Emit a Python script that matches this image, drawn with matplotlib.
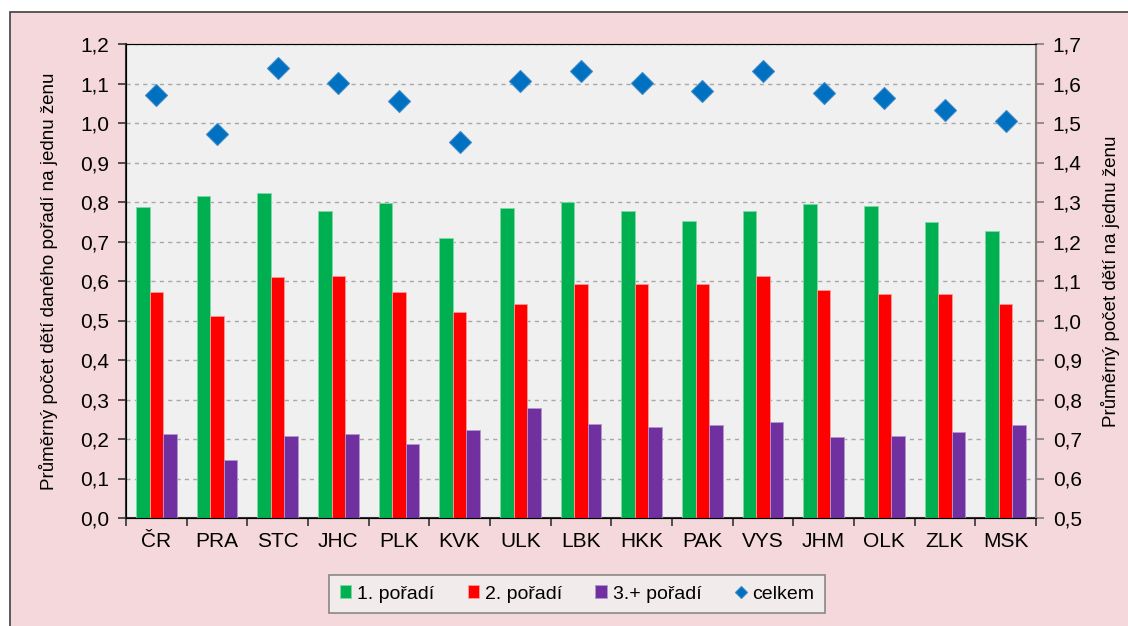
import numpy as np
import matplotlib.pyplot as plt
from matplotlib.patches import Rectangle

plt.rcParams['font.family'] = ['Liberation Sans', 'DejaVu Sans']

# data
kraje = ["ČR", "PRA", "STC", "JHC", "PLK", "KVK", "ULK", "LBK",
         "HKK", "PAK", "VYS", "JHM", "OLK", "ZLK", "MSK"]
poradi1 = [0.788, 0.815, 0.822, 0.777, 0.798, 0.708, 0.786, 0.800,
           0.776, 0.753, 0.776, 0.796, 0.789, 0.749, 0.727]
poradi2 = [0.571, 0.512, 0.611, 0.613, 0.571, 0.521, 0.543, 0.593,
           0.593, 0.592, 0.612, 0.577, 0.567, 0.566, 0.543]
poradi3 = [0.213, 0.146, 0.208, 0.212, 0.187, 0.223, 0.278, 0.238,
           0.231, 0.236, 0.243, 0.204, 0.207, 0.217, 0.235]
celkem = [1.571, 1.473, 1.640, 1.602, 1.556, 1.452, 1.606, 1.631,
          1.601, 1.580, 1.632, 1.577, 1.564, 1.532, 1.505]

pink = "#f5d8dc"
fig = plt.figure(figsize=(11.28, 6.26), dpi=100)
fig.patch.set_facecolor("white")
# pink chart area with dark frame (cut on right/bottom)
fig.patches.append(Rectangle((10/1128, -0.05), 1.2, (626-12)/626 + 0.05,
                             transform=fig.transFigure, facecolor=pink,
                             edgecolor="#404040", linewidth=1.2, zorder=-10))

ax = fig.add_axes([126/1128, 1 - 518/626, 910/1128, 474/626])
ax.set_facecolor("#f0f0f0")
x = np.arange(len(kraje))
w = 0.222
ax.bar(x - w, poradi1, w, color="#00b050", edgecolor="#7fd8a7", linewidth=0.6, label="1. pořadí", zorder=3)
ax.bar(x, poradi2, w, color="#ff0000", edgecolor="#ff9a9a", linewidth=0.6, label="2. pořadí", zorder=3)
ax.bar(x + w, poradi3, w, color="#7030a0", edgecolor="#b497cf", linewidth=0.6, label="3.+ pořadí", zorder=3)

ax.set_xlim(-0.5, len(kraje) - 0.5)
ax.set_ylim(0, 1.2)
yt = np.arange(0, 1.21, 0.1)
ax.set_yticks(yt)
ax.set_yticklabels([f"{v:.1f}".replace(".", ",") for v in yt], fontsize=15)
ax.set_xticks(x)
ax.set_xticklabels(kraje, fontsize=15)
ax.set_xticks(np.arange(-0.5, len(kraje), 1), minor=True)
ax.tick_params(axis="x", which="major", length=0, pad=10)
ax.tick_params(axis="x", which="minor", length=6, width=1.2, color="#333333")
ax.tick_params(axis="y", length=6, width=1.2, color="#333333", pad=6)
ax.grid(axis="y", linestyle=(0, (3, 3)), color="#a8a8a8", linewidth=1, zorder=0)
ax.set_ylabel("Průměrný počet dětí daného pořadí na jednu ženu", fontsize=13.5, labelpad=16)
for s in ["left", "bottom"]:
    ax.spines[s].set_color("#333333")
    ax.spines[s].set_linewidth(1.5)
ax.spines["top"].set_color("#707070")
ax.spines["right"].set_color("#808080")

ax2 = ax.twinx()
ax2.plot(x, celkem, linestyle="none", marker="D", markersize=11, color="#0070c0",
         markeredgecolor="#3b88c9", markeredgewidth=0.8, label="celkem", zorder=4)
ax2.set_ylim(0.5, 1.7)
yt2 = np.arange(0.5, 1.71, 0.1)
ax2.set_yticks(yt2)
ax2.set_yticklabels([f"{v:.1f}".replace(".", ",") for v in yt2], fontsize=15)
ax2.tick_params(axis="y", length=6, width=1.2, color="#808080", pad=6)
ax2.set_ylabel("Průměrný počet dětí na jednu ženu", fontsize=13.5, labelpad=14)
ax2.spines["right"].set_color("#808080")
ax2.spines["right"].set_linewidth(1.5)

h1, l1 = ax.get_legend_handles_labels()
h2, l2 = ax2.get_legend_handles_labels()
leg = fig.legend(h1 + h2, l1 + l2, loc="center", bbox_to_anchor=(577/1128, 1 - 594/626),
                 ncol=4, fontsize=14, frameon=True, fancybox=False,
                 handlelength=0.6, handleheight=0.6, handletextpad=0.3,
                 columnspacing=1.7, borderpad=0.55, markerscale=0.6)
leg.get_frame().set_facecolor("#f0f0f0")
leg.get_frame().set_edgecolor("#707070")
leg.get_frame().set_linewidth(1.2)

fig.savefig("out.png", dpi=100, facecolor=fig.get_facecolor())
